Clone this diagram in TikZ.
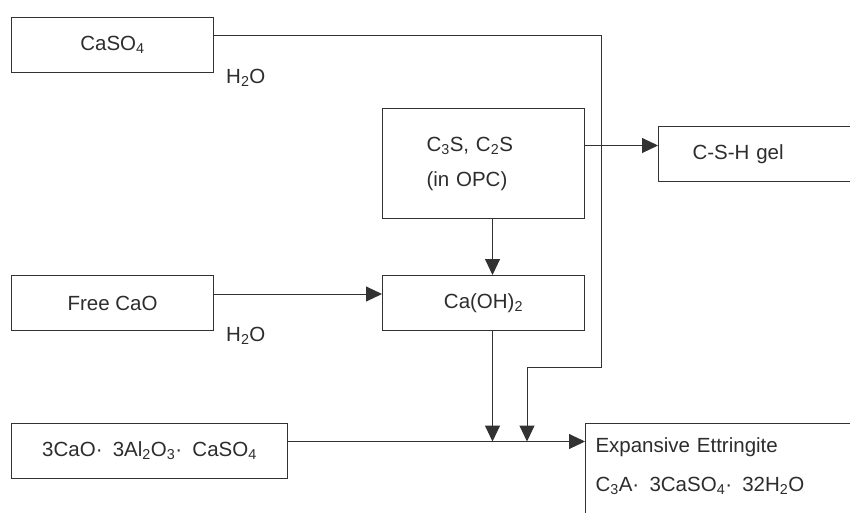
\documentclass[tikz,border=0pt]{standalone}
\usepackage{fontspec}
\setmainfont{Liberation Sans}
\usetikzlibrary{positioning,arrows.meta,calc}
\definecolor{inkGray}{RGB}{50,50,50}
\definecolor{textGray}{RGB}{45,45,45}
\tikzset{
	box/.style={
		draw=inkGray,
		line width=1pt,
		minimum width=202pt,
		minimum height=55pt,
		inner sep=0pt,
		align=center,
	},
	flow/.style={
		-{Triangle[length=16pt,width=15pt]},
		line width=1pt,
		draw=inkGray,
	},
	chem/.style={
		inner sep=0pt,
		anchor=west,
	}
}

\begin{document}
\begin{tikzpicture}[
			x=1pt, y=-1pt,
			every node/.style={font=\fontsize{20.5}{24}\selectfont, text=textGray}
			]
			\path[use as bounding box, fill=white] (0,0) rectangle (850,512);
			\clip (0,0) rectangle (850,512);

			% --- Left column ---
			\node[box, anchor=north west] (caso) at (11,17) {CaSO\textsubscript{4}};
			\node[box] (freecao) [below=202pt of caso] {Free CaO};
			\node[box, minimum width=276pt] (aluminate)
			 [below right=92pt and 0pt of freecao.south west] {3CaO·\enspace 3Al\textsubscript{2}O\textsubscript{3}·\enspace CaSO\textsubscript{4}};

			% --- Middle column ---
			\node[box] (hydrox) [right=168pt of freecao] {Ca(OH)\textsubscript{2}};
			\node[box, minimum height=110pt, text width=114pt, inner xsep=44pt, align=left,
			 font=\fontsize{20.5}{35}\selectfont] (silicate)
			 [above=56pt of hydrox] {C\textsubscript{3}S, C\textsubscript{2}S\\(in OPC)};

			% --- Right column (boxes run off the page) ---
			\node[box, text width=150pt, inner xsep=34pt, align=left] (gel)
			 [below right=18pt and 73pt of silicate.north east] {C-S-H gel};
			\node[box, text width=280pt, inner xsep=10pt, inner ysep=14pt, text depth=60pt, align=left,
			 font=\fontsize{20.5}{39}\selectfont] (ettringite)
			 [below right=92pt and 0pt of hydrox.south east] {Expansive Ettringite\\C\textsubscript{3}A·\enspace 3CaSO\textsubscript{4}·\enspace 32H\textsubscript{2}O};

			% --- Water labels ---
			\node[chem] (water1) at ([xshift=12pt,yshift=-5pt]caso.south east) {H\textsubscript{2}O};
			\node[chem] (water2) at ([xshift=12pt,yshift=-5pt]freecao.south east) {H\textsubscript{2}O};

			% --- Flows ---
			\coordinate (feed) at ([yshift=9.5pt]aluminate.east);
			\coordinate (gelport) at ([yshift=18pt]silicate.east);
			\coordinate (limeport) at ([xshift=9pt]hydrox.south);
			\coordinate (bend) at (601,367);
			\coordinate (drop) at (527,367);
			\draw[flow] (feed) -- (feed -| ettringite.west);
			\draw[flow] ([yshift=9pt]freecao.east) -- ([yshift=9pt]hydrox.west);
			\draw[flow] ([xshift=9pt]silicate.south) -- ([xshift=9pt]hydrox.north);
			\draw[flow] (gelport) -- (gelport -| gel.west);
			\draw[flow] (limeport) -- (limeport |- feed);
			\draw[flow] ([yshift=9.5pt]caso.east) -| (bend) -- (drop) -- (drop |- feed);
		\end{tikzpicture}
\end{document}
